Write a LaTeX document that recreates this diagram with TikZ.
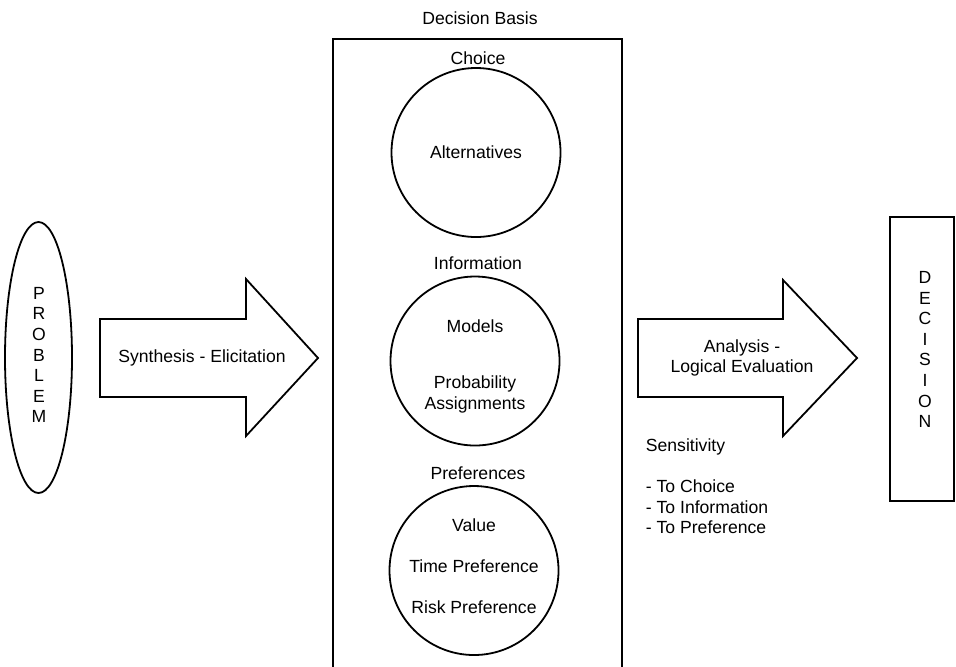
\documentclass[tikz,border=0pt]{standalone}
\usepackage{fontspec}
\setmainfont{Liberation Sans}
\usepackage{tikz}
\usetikzlibrary{shapes.geometric}

\begin{document}
\begin{tikzpicture}[x=0.5pt, y=-0.5pt, line width=0.9pt,
    every node/.style={font=\fontsize{8.8}{10.3}\selectfont, align=center},
    bubble/.style={circle, draw, minimum size=84.5pt, inner sep=0pt},
    letters/.style={inner sep=0pt, font=\fontsize{8.8}{10.3}\selectfont}]
    \useasboundingbox (0,0) rectangle (956,666);

    \node[ellipse, draw, minimum width=33.5pt, minimum height=135.5pt] (problem) at (38.5,357.5) {};
    \node[letters] (problemtext) at (39,355) {P\\R\\O\\B\\L\\E\\M};

    \draw (100,319) -- (246,319) -- (246,279) -- (318,358) -- (246,436) -- (246,397) -- (100,397) -- cycle;
    \node (synth) at (202,358) {Synthesis - Elicitation};

    \node (basis) at (480,18) {Decision Basis};
    \draw (333,672) -- (333,39) -- (622,39) -- (622,672);

    \node (choice) at (478,58) {Choice};
    \node[bubble] (alt) at (476,152.5) {Alternatives};

    \node (info) at (478,263) {Information};
    \node[bubble] (infocirc) at (475,361) {};
    \node (models) at (475,326) {Models};
    \node (prob) at (475,394.5) {Probability\\Assignments};

    \node (pref) at (478,473) {Preferences};
    \node[bubble] (prefcirc) at (474,570.5) {};
    \node (value) at (474,525) {Value};
    \node (time) at (474,566) {Time Preference};
    \node (risk) at (474,607) {Risk Preference};

    \draw (638,319) -- (783,319) -- (783,280) -- (857,358) -- (783,436) -- (783,397) -- (638,397) -- cycle;
    \node (analysis) at (742,358) {Analysis -\\Logical Evaluation};

    \node[anchor=west, inner xsep=0pt] (sens) at (645,447) {Sensitivity};
    \node[anchor=west, inner xsep=0pt, align=left] (sensto) at (645,507) {- To Choice\\- To Information\\- To Preference};

    \node[draw, minimum width=32pt, minimum height=142pt] (decision) at (922,359) {};
    \node[letters] (decisiontext) at (925,349.5) {D\\E\\C\\I\\S\\I\\O\\N};
\end{tikzpicture}
\end{document}
